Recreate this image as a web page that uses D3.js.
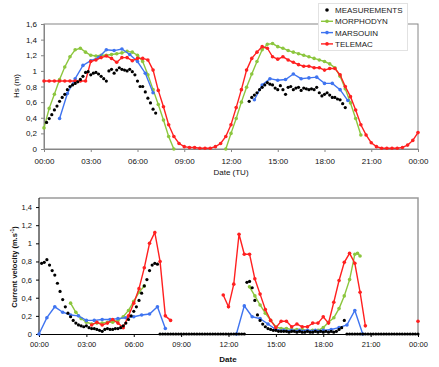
<!DOCTYPE html>
<meta charset="utf-8">
<style>
body { margin: 0; background: #fff; }
svg { font-family: "Liberation Sans", Arial, sans-serif; }
.tick text { fill: #111; }
</style>
<body>
<script src="https://cdn.jsdelivr.net/npm/d3@7"></script>
<script>

// ---- data (hours of the day) ----
var timeTicks = [0, 3, 6, 9, 12, 15, 18, 21, 24];
var timeLabels = ["00:00", "03:00", "06:00", "09:00", "12:00", "15:00", "18:00", "21:00", "00:00"];
var hsTicks = [0, 0.2, 0.4, 0.6, 0.8, 1, 1.2, 1.4, 1.6];
var hsLabels = ["0", "0,2", "0,4", "0,6", "0,8", "1", "1,2", "1,4", "1,6"];
var velTicks = [0, 0.2, 0.4, 0.6, 0.8, 1, 1.2, 1.4];
var velLabels = ["0", "0,2", "0,4", "0,6", "0,8", "1", "1,2", "1,4"];

var seriesNames = ["MEASUREMENTS", "MORPHODYN", "MARSOUIN", "TELEMAC"];
var seriesColors = ["#000000", "#8cc63e", "#3f74f0", "#ff2020"];

// Hs (m) -- measurements every 10 min
var hsMeasA = [0.34, 0.39, 0.44, 0.50, 0.55, 0.61, 0.66, 0.70, 0.76, 0.80, 0.82, 0.84, 0.86, 0.89,
  0.93, 0.98, 0.99, 0.95, 0.97, 0.98, 0.96, 0.93, 0.90, 0.87, 1.00, 1.02, 0.97, 1.01, 1.04, 1.02,
  1.01, 1.00, 1.02, 0.99, 0.95, 0.87, 0.80, 0.80, 0.73, 0.65, 0.59, 0.51, 0.46];
var hsMeasB = [0.61, 0.66, 0.69, 0.72, 0.76, 0.79, 0.82, 0.85, 0.83, 0.82, 0.78, 0.76, 0.81, 0.76,
  0.70, 0.79, 0.80, 0.76, 0.78, 0.79, 0.75, 0.78, 0.77, 0.76, 0.77, 0.76, 0.79, 0.72, 0.68, 0.70,
  0.72, 0.69, 0.66, 0.66, 0.64, 0.63, 0.58, 0.53];
// models every 20 / 30 min
var hsMorphoA = [0.27, 0.52, 0.70, 0.89, 1.05, 1.18, 1.27, 1.29, 1.24, 1.20, 1.19, 1.20, 1.20, 1.21,
  1.22, 1.23, 1.25, 1.24, 1.20, 1.12, 0.95, 0.76, 0.57, 0.37, 0.16, 0.0];
var hsMorphoB = [0.0, 0.20, 0.39, 0.60, 0.79, 0.96, 1.12, 1.27, 1.34, 1.35, 1.31, 1.29, 1.26, 1.24,
  1.22, 1.20, 1.18, 1.16, 1.14, 1.12, 1.09, 1.04, 0.93, 0.77, 0.59, 0.39, 0.18];
var hsMarsouinA = [0.39, 0.71, 0.90, 1.07, 1.13, 1.17, 1.27, 1.26, 1.28, 1.21, 1.12, 0.97, 0.72];
var hsMarsouinB = [0.63, 0.82, 0.90, 0.88, 0.89, 0.96, 0.90, 0.91, 0.92, 0.84, 0.84, 0.76, 0.62];
var hsTelemac = [0.87, 0.87, 0.87, 0.87, 0.87, 0.87, 0.87, 0.87, 0.87, 1.12, 1.14, 1.17, 1.19, 1.16,
  1.11, 1.17, 1.17, 1.13, 1.16, 1.16, 1.14, 1.01, 0.75, 0.54, 0.31, 0.16, 0.07, 0.03, 0.02, 0.02,
  0.01, 0.01, 0.01, 0.03, 0.07, 0.16, 0.31, 0.53, 0.76, 1.01, 1.16, 1.24, 1.31, 1.29, 1.18, 1.15,
  1.18, 1.14, 1.11, 1.08, 1.06, 1.06, 1.04, 1.04, 1.01, 1.03, 1.03, 0.95, 0.80, 0.67, 0.50, 0.31,
  0.18, 0.08, 0.03, 0.01, 0.01, 0.01, 0.01, 0.02, 0.05, 0.11, 0.21];

// Current velocity (m/s) -- measurements every 10 min
var velMeasA = [0.78, 0.79, 0.82, 0.76, 0.70, 0.65, 0.56, 0.47, 0.38, 0.30, 0.23, 0.19, 0.15, 0.12,
  0.10, 0.09, 0.08, 0.09, 0.07, 0.06, 0.06, 0.05, 0.04, 0.03, 0.05, 0.06, 0.05, 0.05, 0.06, 0.06,
  0.07, 0.09, 0.12, 0.16, 0.20, 0.25, 0.30, 0.37, 0.45, 0.53, 0.60, 0.70, 0.76, 0.78, 0.77];
var velMeasZeroA = [0, 0, 0, 0, 0, 0, 0, 0, 0, 0, 0, 0, 0, 0, 0, 0, 0, 0, 0, 0, 0, 0, 0, 0, 0, 0,
  0, 0, 0, 0, 0, 0, 0];
var velMeasB = [0.57, 0.58, 0.51, 0.37, 0.21, 0.15, 0.11, 0.08, 0.06, 0.05, 0.04, 0.04, 0.03, 0.03,
  0.03, 0.03, 0.02, 0.03, 0.03, 0.02, 0.03, 0.02, 0.02, 0.03, 0.02, 0.02, 0.03, 0.02, 0.03, 0.02,
  0.03, 0.02, 0.03, 0.02, 0.03, 0.05, 0.07, 0.15];
var velMeasZeroB = [0, 0, 0, 0, 0, 0, 0, 0, 0, 0, 0, 0, 0, 0, 0, 0, 0, 0, 0, 0, 0, 0, 0, 0, 0, 0,
  0, 0];
var velMorphoA = [0.34, 0.24, 0.17, 0.13, 0.11, 0.12, 0.12, 0.13, 0.13, 0.15, 0.19, 0.26, 0.36,
  0.46, 0.53];
var velMorphoBTime = [13.33, 13.67, 14, 14.33, 14.67, 15, 15.33, 15.67, 16, 16.33, 16.67, 17, 17.33,
  17.67, 18, 18.33, 18.67, 19, 19.33, 19.67, 20, 20.17, 20.33];
var velMorphoB = [0.52, 0.42, 0.32, 0.23, 0.15, 0.08, 0.06, 0.06, 0.05, 0.05, 0.05, 0.04, 0.04,
  0.04, 0.07, 0.13, 0.18, 0.28, 0.42, 0.60, 0.88, 0.89, 0.86];
var velMarsouinA = [0.0, 0.18, 0.30, 0.24, 0.21, 0.20, 0.15, 0.15, 0.16, 0.16, 0.17, 0.18, 0.19,
  0.21, 0.22, 0.30, 0.06];
var velMarsouinB = [0.0, 0.31, 0.19, 0.17, 0.11, 0.05, 0.04, 0.04, 0.04, 0.04, 0.04, 0.04, 0.05,
  0.07, 0.10, 0.26, 0.0];
var velTelemacA = [0.10, 0.13, 0.10, 0.12, 0.16, 0.12, 0.07, 0.20, 0.34, 0.50, 0.73, 1.00, 1.12,
  0.80, 0.20, 0.15];
var velTelemacB = [0.43, 0.30, 0.55, 1.10, 0.88, 0.88, 0.61, 0.44, 0.27, 0.15, 0.07, 0.14, 0.14,
  0.08, 0.11, 0.08, 0.08, 0.12, 0.12, 0.19, 0.12, 0.35, 0.59, 0.79, 0.89, 0.78, 0.46, 0.09];
var velTelemacC = [0.14];

// regular sampling: start hour, step in minutes
function series(start, stepMin, vals) {
  return vals.map(function(v, i) { return {h: start + i * stepMin / 60, v: v}; });
}
function seriesAt(times, vals) {
  return vals.map(function(v, i) { return {h: times[i], v: v}; });
}

var W = 439, H = 367;
var svg = d3.select("body").append("svg").attr("width", W).attr("height", H);
svg.append("rect").attr("width", W).attr("height", H).attr("fill", "#fff");

function drawLine(g, x, y, data, color) {
  var line = d3.line().x(function(d) { return x(d.h); }).y(function(d) { return y(d.v); });
  g.append("path").datum(data).attr("d", line)
    .attr("fill", "none").attr("stroke", color).attr("stroke-width", 1.4);
  g.selectAll(null).data(data).enter().append("circle")
    .attr("cx", function(d) { return x(d.h); })
    .attr("cy", function(d) { return y(d.v); })
    .attr("r", 1.8).attr("fill", color);
}
function drawDots(g, x, y, data) {
  g.selectAll(null).data(data).enter().append("circle")
    .attr("cx", function(d) { return x(d.h); })
    .attr("cy", function(d) { return y(d.v); })
    .attr("r", 1.6).attr("fill", "#000");
}

// ================= top panel : Hs =================
var x1 = d3.scaleLinear().domain([0, 24]).range([44, 418]);
var y1 = d3.scaleLinear().domain([0, 1.6]).range([149, 24]);
var hsG = svg.append("g");

hsG.append("rect").attr("x", 44).attr("y", 24).attr("width", 374).attr("height", 125)
  .attr("fill", "none").attr("stroke", "#868686").attr("stroke-width", 1);

var xAx1 = hsG.append("g").attr("transform", "translate(0,149)")
  .call(d3.axisBottom(x1).tickValues(timeTicks).tickSize(3)
    .tickFormat(function(d, i) { return timeLabels[i]; }));
var yAx1 = hsG.append("g").attr("transform", "translate(44,0)")
  .call(d3.axisLeft(y1).tickValues(hsTicks).tickSize(3)
    .tickFormat(function(d, i) { return hsLabels[i]; }));
[xAx1, yAx1].forEach(function(a) {
  a.select(".domain").attr("stroke", "#868686");
  a.selectAll(".tick line").attr("stroke", "#868686");
  a.selectAll(".tick text").style("font-size", "8px");
});
xAx1.selectAll(".tick text").attr("y", 9);
yAx1.selectAll(".tick text").attr("x", -7);

hsG.append("text").attr("x", 231).attr("y", 175).attr("text-anchor", "middle")
  .style("font-size", "8px").attr("fill", "#111").text("Date (TU)");
hsG.append("text").attr("transform", "translate(19,86) rotate(-90)").attr("text-anchor", "middle")
  .style("font-size", "8px").attr("fill", "#111").text("Hs (m)");

drawLine(hsG, x1, y1, series(0, 20, hsMorphoA), seriesColors[1]);
drawLine(hsG, x1, y1, series(11 + 40 / 60, 20, hsMorphoB), seriesColors[1]);
drawLine(hsG, x1, y1, series(1, 30, hsMarsouinA), seriesColors[2]);
drawLine(hsG, x1, y1, series(13.5, 30, hsMarsouinB), seriesColors[2]);
drawLine(hsG, x1, y1, series(0, 20, hsTelemac), seriesColors[3]);
drawDots(hsG, x1, y1, series(10 / 60, 10, hsMeasA));
drawDots(hsG, x1, y1, series(13 + 10 / 60, 10, hsMeasB));

// legend
var leg = svg.append("g");
leg.append("rect").attr("x", 318.5).attr("y", 3.5).attr("width", 89).attr("height", 47)
  .attr("fill", "#fff").attr("stroke", "#e2e2e2");
seriesNames.forEach(function(name, i) {
  var ly = 10 + i * 11.3;
  if (i > 0) {
    leg.append("line").attr("x1", 321).attr("x2", 333).attr("y1", ly).attr("y2", ly)
      .attr("stroke", seriesColors[i]).attr("stroke-width", 1.4);
  }
  leg.append("circle").attr("cx", 327).attr("cy", ly).attr("r", 1.8).attr("fill", seriesColors[i]);
  leg.append("text").attr("x", 335).attr("y", ly + 3).style("font-size", "8px")
    .attr("fill", "#222").text(name);
});

// ================= bottom panel : current velocity =================
var x2 = d3.scaleLinear().domain([0, 24]).range([39, 418]);
var y2 = d3.scaleLinear().domain([0, 1.5]).range([334, 198]);
var velG = svg.append("g");

velG.append("path").attr("d", "M39,198H418V334")
  .attr("fill", "none").attr("stroke", "#9a9a9a").attr("stroke-width", 1.5);

var xAx2 = velG.append("g").attr("transform", "translate(0,334)")
  .call(d3.axisBottom(x2).tickValues(timeTicks).tickSize(3)
    .tickFormat(function(d, i) { return timeLabels[i]; }));
var yAx2 = velG.append("g").attr("transform", "translate(39,0)")
  .call(d3.axisLeft(y2).tickValues(velTicks).tickSize(3)
    .tickFormat(function(d, i) { return velLabels[i]; }));
[xAx2, yAx2].forEach(function(a) {
  a.select(".domain").attr("stroke", "#000");
  a.selectAll(".tick text").style("font-size", "7.5px");
});
xAx2.selectAll(".tick text").attr("y", 8);
yAx2.selectAll(".tick text").attr("x", -7);
yAx2.select(".domain").attr("d", "M0,198V334");

velG.append("text").attr("x", 228).attr("y", 362).attr("text-anchor", "middle")
  .style("font-size", "8px").style("font-weight", "bold").attr("fill", "#111").text("Date");
var yl = velG.append("text").attr("transform", "translate(17,267) rotate(-90)")
  .attr("text-anchor", "middle").style("font-size", "7.5px").style("font-weight", "bold")
  .attr("fill", "#111");
yl.append("tspan").text("Current velocity (m.s");
yl.append("tspan").attr("dy", -3).style("font-size", "5px").text("-1");
yl.append("tspan").attr("dy", 3).text(")");

drawLine(velG, x2, y2, series(2, 20, velMorphoA), seriesColors[1]);
drawLine(velG, x2, y2, seriesAt(velMorphoBTime, velMorphoB), seriesColors[1]);
drawLine(velG, x2, y2, series(0, 30, velMarsouinA), seriesColors[2]);
drawLine(velG, x2, y2, series(12.5, 30, velMarsouinB), seriesColors[2]);
drawLine(velG, x2, y2, series(3 + 20 / 60, 20, velTelemacA), seriesColors[3]);
drawLine(velG, x2, y2, series(11 + 40 / 60, 20, velTelemacB), seriesColors[3]);
drawLine(velG, x2, y2, series(24, 20, velTelemacC), seriesColors[3]);
drawDots(velG, x2, y2, series(10 / 60, 10, velMeasA));
drawDots(velG, x2, y2, series(7 + 40 / 60, 10, velMeasZeroA));
drawDots(velG, x2, y2, series(13 + 10 / 60, 10, velMeasB));
drawDots(velG, x2, y2, series(19.5, 10, velMeasZeroB));

</script>
